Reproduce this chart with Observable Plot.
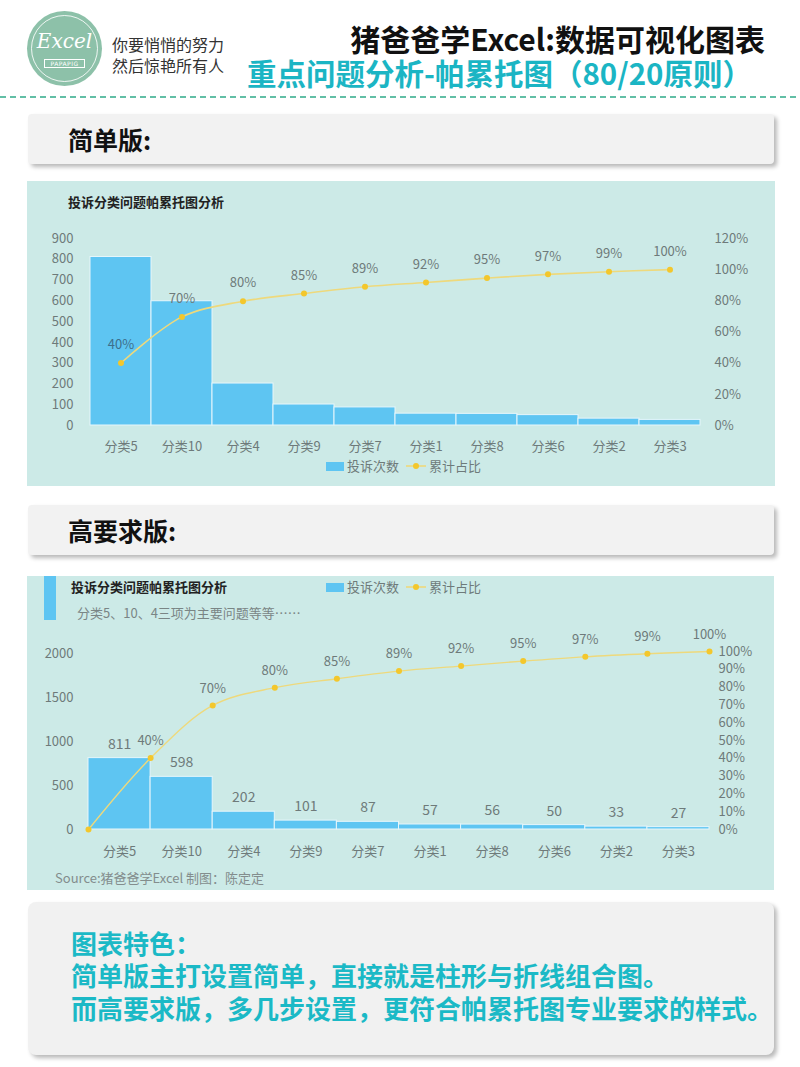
<!DOCTYPE html>
<html>
<head>
<meta charset="utf-8">
<script src="https://cdn.jsdelivr.net/npm/d3@7"></script>
<script src="https://cdn.jsdelivr.net/npm/@observablehq/plot@0.6"></script>
<style>
  html, body { margin: 0; padding: 0; background: #fff; }
  #page { position: relative; width: 800px; height: 1067px; background: #fff; overflow: hidden;
          font-family: "Noto Sans CJK SC", "Noto Sans", sans-serif; }
  .abs { position: absolute; white-space: nowrap; }
  .box { position: absolute; background: #f2f2f2; border-radius: 4px; box-shadow: 3px 3px 4px rgba(0,0,0,0.28); }
  .panel { position: absolute; background: #cceae7; }
  .panel svg { position: absolute; left: 0; top: 0; }
</style>
</head>
<body>
<div id="page">
  <!-- logo -->
  <div class="abs" style="left:27px;top:11px;width:75px;height:75px;border-radius:50%;background:#8dc1a9;"></div>
  <div class="abs" style="left:31px;top:15px;width:67px;height:67px;border-radius:50%;border:1.5px solid rgba(255,255,255,0.85);box-sizing:border-box;"></div>
  <div class="abs" style="left:27px;top:29px;width:75px;text-align:center;color:#fff;font-family:'DejaVu Serif',serif;font-style:italic;font-size:20px;line-height:24px;">Excel</div>
  <div class="abs" style="left:44px;top:59px;width:41px;height:9px;border:1px solid #fff;box-sizing:border-box;color:#fff;font-size:6px;line-height:7px;text-align:center;font-family:'DejaVu Sans',sans-serif;letter-spacing:0.5px;">PAPAPIG</div>
  <!-- slogan -->
  <div class="abs" style="left:112px;top:35px;font-size:16px;line-height:18px;color:#333;">你要悄悄的努力</div>
  <div class="abs" style="left:112px;top:56px;font-size:16px;line-height:18px;color:#333;">然后惊艳所有人</div>
  <!-- titles -->
  <div class="abs" style="right:35px;top:23px;font-size:30px;line-height:30px;font-weight:700;color:#111;">猪爸爸学Excel:数据可视化图表</div>
  <div class="abs" style="right:48px;top:57px;font-size:29.5px;line-height:30px;font-weight:700;color:#1bb5c4;">重点问题分析-帕累托图（80/20原则）</div>
  <svg class="abs" style="left:0;top:92px;" width="800" height="10"><line x1="0" x2="800" y1="5" y2="5" stroke="#62bfa6" stroke-width="2" stroke-dasharray="6 4"/></svg>

  <!-- section 1 -->
  <div class="box" style="left:28px;top:114px;width:746px;height:50px;"></div>
  <div class="abs" style="left:68px;top:124px;font-size:25px;line-height:30px;font-weight:700;color:#111;">简单版:</div>

  <div class="panel" id="panel1" style="left:27px;top:181px;width:748px;height:305px;">
    <div class="abs" style="left:41px;top:12px;font-size:13px;line-height:18px;font-weight:700;color:#222;">投诉分类问题帕累托图分析</div>
  </div>

  <!-- section 2 -->
  <div class="box" style="left:28px;top:505px;width:746px;height:50px;"></div>
  <div class="abs" style="left:68px;top:515px;font-size:25px;line-height:30px;font-weight:700;color:#111;">高要求版:</div>

  <div class="panel" id="panel2" style="left:27px;top:576px;width:747px;height:314px;">
    <div class="abs" style="left:17px;top:0px;width:12px;height:44px;background:#5ec5f2;"></div>
    <div class="abs" style="left:44px;top:2px;font-size:13px;line-height:18px;font-weight:700;color:#222;">投诉分类问题帕累托图分析</div>
    <div class="abs" style="left:50px;top:28px;font-size:13px;line-height:18px;color:#7a8585;">分类5、10、4三项为主要问题等等……</div>
    <div class="abs" style="left:28px;top:293px;font-size:13px;line-height:18px;color:#838d8d;">Source:猪爸爸学Excel 制图：陈定定</div>
  </div>

  <!-- bottom notes -->
  <div class="box" style="left:28px;top:902px;width:746px;height:153px;border-radius:8px;background:#f1f1f1;"></div>
  <div class="abs" style="left:71px;top:929px;font-size:26px;line-height:28px;font-weight:700;color:#1bb9c6;">图表特色：</div>
  <div class="abs" style="left:71px;top:961px;font-size:26px;line-height:28px;font-weight:700;color:#1bb9c6;">简单版主打设置简单，直接就是柱形与折线组合图。</div>
  <div class="abs" style="left:71px;top:994px;font-size:26px;line-height:28px;font-weight:700;color:#1bb9c6;">而高要求版，多几步设置，更符合帕累托图专业要求的样式。</div>
</div>

<script>
// ---- data ----
const categories = ["分类5","分类10","分类4","分类9","分类7","分类1","分类8","分类6","分类2","分类3"];
const counts     = [811, 598, 202, 101, 87, 57, 56, 50, 33, 27];
const cumPercent = [40.1, 69.7, 79.7, 84.7, 89.0, 91.8, 94.6, 97.0, 98.7, 100];
const leftTicks1  = [0,100,200,300,400,500,600,700,800,900];
const rightTicks1 = [0,20,40,60,80,100,120];
const leftTicks2  = [0,500,1000,1500,2000];
const rightTicks2 = [0,10,20,30,40,50,60,70,80,90,100];
const seriesNames = ["投诉次数", "累计占比"];

const rows = categories.map((c, i) => ({cat: c, value: counts[i], cum: cumPercent[i]}));
const linePts2 = [{pos: 0, cum: 0}].concat(rows.map((d, i) => ({pos: i + 1, cum: d.cum})));

const BAR = "#5ec5f2", LINE = "#eed97c", DOT = "#f3c72c", TXT = "#6e7a7a";
const FONT = "'Noto Sans CJK SC', 'Noto Sans', sans-serif";

// ---- chart 1 (simple) ----
const max1 = 900, pMax1 = 120;
const p1 = v => v / pMax1 * max1;
const chart1 = Plot.plot({
  width: 748, height: 305,
  marginLeft: 61, marginRight: 74, marginTop: 57, marginBottom: 61,
  style: {fontFamily: FONT, fontSize: "13px", color: TXT, background: "transparent", overflow: "visible"},
  x: {type: "band", domain: categories, padding: 0},
  y: {domain: [0, max1]},
  marks: [
    Plot.axisY({ticks: leftTicks1, tickFormat: d => String(d), tickSize: 0, tickPadding: 15, label: null, fontSize: 13}),
    Plot.axisY({anchor: "right", ticks: rightTicks1.map(p1), tickFormat: v => Math.round(v / max1 * pMax1) + "%",
                tickSize: 0, tickPadding: 13, label: null, fontSize: 13}),
    Plot.axisX({tickSize: 0, tickPadding: 16, label: null, fontSize: 13}),
    Plot.barY(rows, {x: "cat", y: "value", fill: BAR, stroke: "#e6f6fb", strokeWidth: 1}),
    Plot.line(rows, {x: "cat", y: d => p1(d.cum), stroke: LINE, strokeWidth: 1.6, curve: "catmull-rom"}),
    Plot.dot(rows, {x: "cat", y: d => p1(d.cum), r: 3, fill: DOT, stroke: "none"}),
    Plot.text(rows, {x: "cat", y: d => p1(d.cum), text: d => Math.round(d.cum) + "%", dy: -18,
                     fill: (d, i) => i === 0 ? "#3d6f8c" : TXT, fontSize: 13})
  ]
});
document.getElementById("panel1").appendChild(chart1);

// ---- chart 2 (advanced) ----
const total = counts.reduce((a, b) => a + b, 0);
const p2 = v => v / 100 * total;
const chart2 = Plot.plot({
  width: 747, height: 314,
  marginLeft: 61, marginRight: 65, marginTop: 75, marginBottom: 61,
  style: {fontFamily: FONT, fontSize: "13px", color: TXT, background: "transparent", overflow: "visible"},
  x: {domain: [0, categories.length]},
  y: {domain: [0, total]},
  marks: [
    Plot.axisY({ticks: leftTicks2, tickFormat: d => String(d), tickSize: 0, tickPadding: 15, label: null, fontSize: 13}),
    Plot.axisY({anchor: "right", ticks: rightTicks2.map(p2), tickFormat: v => Math.round(v / total * 100) + "%",
                tickSize: 0, tickPadding: 9, label: null, fontSize: 13}),
    Plot.axisX({ticks: categories.map((c, i) => i + 0.5), tickFormat: v => categories[Math.floor(v)],
                tickSize: 0, tickPadding: 17, label: null, fontSize: 13}),
    Plot.rectY(rows, {x1: (d, i) => i, x2: (d, i) => i + 1, y: "value", fill: BAR, stroke: "#e6f6fb", strokeWidth: 1}),
    Plot.text(rows, {x: (d, i) => i + 0.5, y: "value", text: d => String(d.value), dy: -14, fill: TXT, fontSize: 14}),
    Plot.line(linePts2, {x: "pos", y: d => p2(d.cum), stroke: LINE, strokeWidth: 1.4, curve: "catmull-rom"}),
    Plot.dot(linePts2, {x: "pos", y: d => p2(d.cum), r: 3, fill: DOT, stroke: "none"}),
    Plot.text(rows, {x: (d, i) => i + 1, y: d => p2(d.cum), text: d => Math.round(d.cum) + "%", dy: -17, fill: TXT, fontSize: 13})
  ]
});
document.getElementById("panel2").appendChild(chart2);

// ---- legends (HTML) ----
function legend(panelId, cy, x0) {
  const p = document.getElementById(panelId);
  const h = `
    <div class="abs" style="left:${x0}px;top:${cy - 4}px;width:18px;height:9px;background:${BAR};"></div>
    <div class="abs" style="left:${x0 + 21}px;top:${cy - 9}px;font-size:13px;line-height:18px;color:${TXT};">${seriesNames[0]}</div>
    <svg class="abs" style="left:${x0 + 80}px;top:${cy - 5}px;overflow:visible" width="20" height="10">
      <line x1="0" x2="20" y1="5" y2="5" stroke="${LINE}" stroke-width="1.6"/>
      <circle cx="10" cy="5" r="3" fill="${DOT}"/>
    </svg>
    <div class="abs" style="left:${x0 + 103}px;top:${cy - 9}px;font-size:13px;line-height:18px;color:${TXT};">${seriesNames[1]}</div>`;
  p.insertAdjacentHTML("beforeend", h);
}
legend("panel1", 285, 299);
legend("panel2", 11, 299);
</script>
</body>
</html>
